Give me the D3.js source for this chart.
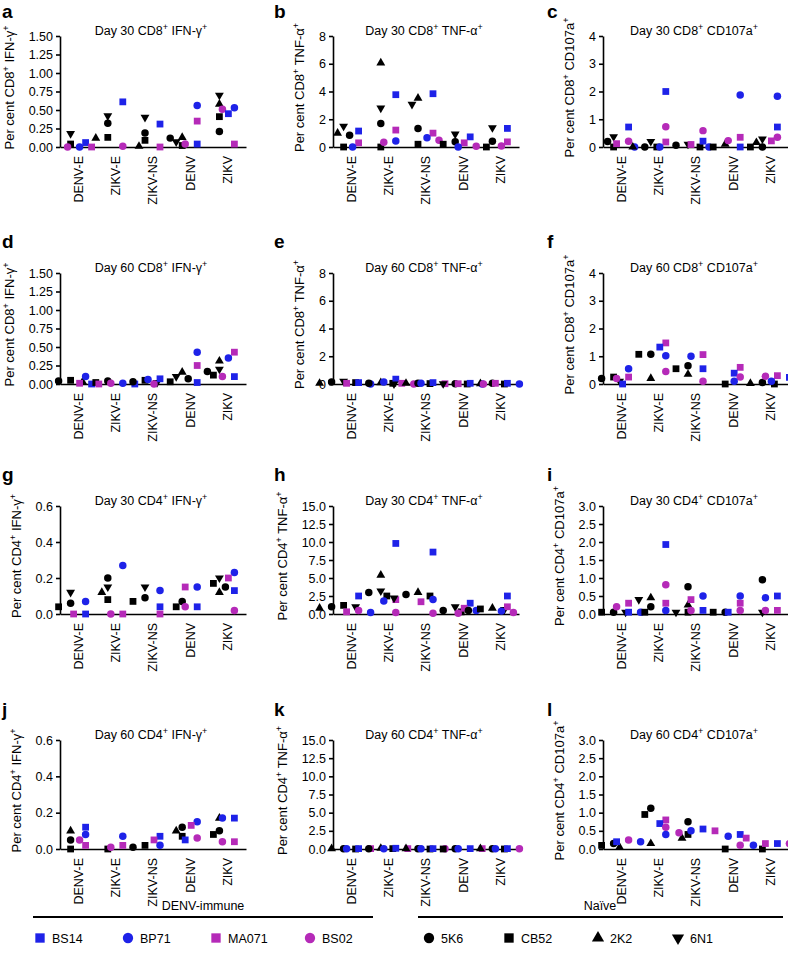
<!DOCTYPE html>
<html>
<head>
<meta charset="utf-8">
<script src="https://cdn.jsdelivr.net/npm/d3@7"></script>
<style>
  body { margin: 0; background: #fff; }
  text { font-family: "Liberation Sans", Arial, Helvetica, sans-serif; fill: #000; }
</style>
</head>
<body>
<script>
// ---- data ----
const categories = ["DENV-E", "ZIKV-E", "ZIKV-NS", "DENV", "ZIKV"];
const naiveDonors = ["5K6", "CB52", "2K2", "6N1"];
const immuneDonors = ["BS14", "BP71", "MA071", "BS02"];
const donors = naiveDonors.concat(immuneDonors);

// rows follow `donors` order, columns follow `categories`
const d30Cd8Ifng = [
  [null, 0.32, 0.19, 0.12, 0.21],
  [0.04, 0.13, 0.09, 0.02, 0.41],
  [null, 0.12, 0.01, 0.13, 0.58],
  [0.18, 0.42, 0.40, 0.07, 0.70],
  [0.06, 0.61, 0.31, 0.04, 0.45],
  [0.00, null, null, 0.56, 0.53],
  [0.00, null, 0.00, 0.35, 0.04],
  [0.00, 0.01, null, 0.04, 0.51]
];
const d30Cd8Tnfa = [
  [0.85, 1.69, 1.34, 0.37, 0.42],
  [0.00, 0.00, 0.20, 0.20, 0.00],
  [1.00, 6.06, 3.52, null, null],
  [1.50, 2.80, 3.08, 0.93, 1.39],
  [1.15, 3.77, 3.84, 0.73, 1.34],
  [0.00, 0.44, 0.66, 0.00, null],
  [0.30, 1.22, 1.00, 0.30, 0.37],
  [null, 0.34, 0.49, 0.05, 0.07]
];
const d30Cd8Cd107a = [
  [0.20, 0.00, 0.06, null, 0.00],
  [0.00, 0.00, 0.00, 0.00, 0.00],
  [null, 0.00, null, 0.10, 0.16],
  [0.37, 0.20, 0.10, null, 0.29],
  [0.72, 2.00, 0.21, 0.00, 0.72],
  [0.00, 0.00, 0.00, 1.87, 1.83],
  [0.12, 0.18, 0.09, 0.35, 0.22],
  [0.21, 0.73, 0.59, 0.23, 0.35]
];
const d60Cd8Ifng = [
  [0.04, 0.04, 0.03, 0.07, 0.17],
  [0.05, 0.02, 0.05, 0.03, 0.12],
  [0.03, null, null, 0.16, 0.31],
  [null, null, 0.02, 0.10, 0.20],
  [0.00, 0.00, 0.07, 0.02, 0.10],
  [0.10, 0.01, 0.06, 0.43, 0.35],
  [0.01, 0.00, null, 0.25, 0.43],
  [null, 0.01, 0.00, null, 0.10]
];
const d60Cd8Tnfa = [
  [0.15, 0.05, 0.05, 0.02, 0.05],
  [0.10, 0.05, 0.03, 0.00, 0.00],
  [0.05, 0.10, 0.05, null, 0.02],
  [0.20, null, 0.00, 0.02, null],
  [0.10, 0.35, 0.10, 0.05, 0.05],
  [0.00, 0.15, 0.05, 0.00, 0.00],
  [0.05, 0.05, 0.02, 0.02, 0.05],
  [null, 0.00, null, null, 0.00]
];
const d60Cd8Cd107a = [
  [0.20, 1.07, 0.66, null, 0.05],
  [0.25, 1.07, 0.55, 0.00, 0.00],
  [null, 0.20, 0.35, null, 0.02],
  [0.10, null, null, null, null],
  [0.00, 1.33, 0.55, 0.39, 0.24],
  [0.55, 1.02, 1.00, 0.10, 0.10],
  [0.25, 1.48, 1.06, 0.60, 0.30],
  [0.20, 0.45, 0.10, 0.25, 0.28]
];
const d30Cd4Ifng = [
  [0.06, 0.20, 0.09, 0.07, 0.15],
  [0.04, 0.08, 0.07, 0.04, 0.17],
  [null, 0.12, null, null, 0.12],
  [0.12, 0.15, 0.15, null, 0.20],
  [0.00, null, 0.04, 0.04, 0.13],
  [0.07, 0.27, 0.13, 0.15, 0.23],
  [0.00, 0.00, 0.00, 0.15, 0.20],
  [null, 0.00, null, 0.04, 0.02]
];
const d30Cd4Tnfa = [
  [1.0, 3.0, 2.7, 0.5, 0.5],
  [1.2, 2.5, 2.5, 0.3, 0.7],
  [0.8, 5.4, 3.0, null, 0.8],
  [1.0, 3.2, 2.2, 1.0, 0.6],
  [2.5, 9.8, 8.6, 1.5, 2.5],
  [0.2, 1.8, 2.0, 0.5, 0.4],
  [0.3, 2.0, 1.7, 0.8, 1.0],
  [0.5, 0.2, 0.1, 0.1, 0.2]
];
const d30Cd4Cd107a = [
  [0.05, 0.20, 0.76, 0.05, 0.95],
  [0.05, 0.05, 0.05, 0.05, null],
  [null, 0.45, 0.25, null, null],
  [0.05, 0.40, 0.05, null, 0.05],
  [0.05, 1.93, 0.10, 0.05, 0.50],
  [0.05, 0.10, 0.50, 0.50, 0.45],
  [0.30, 0.30, 0.40, 0.30, 0.10],
  [0.20, 0.81, 0.10, 0.10, 0.10]
];
const d60Cd4Ifng = [
  [0.05, null, 0.01, 0.12, 0.10],
  [0.00, 0.00, 0.02, 0.07, 0.08],
  [0.10, null, null, 0.10, 0.17],
  [null, null, null, null, null],
  [0.12, null, 0.07, 0.05, 0.17],
  [0.08, 0.07, 0.02, 0.15, 0.17],
  [0.02, 0.02, 0.05, 0.13, 0.04],
  [0.05, 0.01, null, 0.06, 0.04]
];
const d60Cd4Tnfa = [
  [0.05, 0.05, 0.05, 0.05, 0.05],
  [0.00, 0.05, 0.00, 0.00, 0.00],
  [0.05, 0.10, 0.05, null, 0.05],
  [null, null, null, null, null],
  [0.05, 0.10, 0.05, 0.05, 0.05],
  [0.05, 0.05, 0.05, 0.05, 0.05],
  [0.05, 0.05, null, 0.05, null],
  [null, null, 0.05, null, 0.05]
];
const d60Cd4Cd107a = [
  [0.15, 1.12, 0.75, null, null],
  [0.10, 0.95, 0.40, 0.00, 0.00],
  [0.05, 0.15, 0.30, null, null],
  [null, null, null, null, null],
  [0.20, 0.70, 0.55, 0.40, 0.15],
  [0.20, 0.40, 0.50, 0.35, 0.10],
  [null, 0.80, 0.50, 0.30, 0.15],
  [0.25, 0.60, 0.45, 0.10, 0.15]
];

const ticksIfng8 = [0, 0.25, 0.5, 0.75, 1, 1.25, 1.5];
const ticksTnfa8 = [0, 2, 4, 6, 8];
const ticksCd107a8 = [0, 1, 2, 3, 4];
const ticksIfng4 = [0, 0.2, 0.4, 0.6];
const ticksTnfa4 = [0, 2.5, 5, 7.5, 10, 12.5, 15];
const ticksCd107a4 = [0, 0.5, 1, 1.5, 2, 2.5, 3];

const panels = [
  { id: "a", title: "Day 30 CD8^+ IFN-γ^+", ylab: "Per cent CD8^+ IFN-γ^+", values: d30Cd8Ifng, ticks: ticksIfng8, fmt: ".2f" },
  { id: "b", title: "Day 30 CD8^+ TNF-α^+", ylab: "Per cent CD8^+ TNF-α^+", values: d30Cd8Tnfa, ticks: ticksTnfa8, fmt: "d" },
  { id: "c", title: "Day 30 CD8^+ CD107a^+", ylab: "Per cent CD8^+ CD107a^+", values: d30Cd8Cd107a, ticks: ticksCd107a8, fmt: "d" },
  { id: "d", title: "Day 60 CD8^+ IFN-γ^+", ylab: "Per cent CD8^+ IFN-γ^+", values: d60Cd8Ifng, ticks: ticksIfng8, fmt: ".2f" },
  { id: "e", title: "Day 60 CD8^+ TNF-α^+", ylab: "Per cent CD8^+ TNF-α^+", values: d60Cd8Tnfa, ticks: ticksTnfa8, fmt: "d" },
  { id: "f", title: "Day 60 CD8^+ CD107a^+", ylab: "Per cent CD8^+ CD107a^+", values: d60Cd8Cd107a, ticks: ticksCd107a8, fmt: "d" },
  { id: "g", title: "Day 30 CD4^+ IFN-γ^+", ylab: "Per cent CD4^+ IFN-γ^+", values: d30Cd4Ifng, ticks: ticksIfng4, fmt: ".1f" },
  { id: "h", title: "Day 30 CD4^+ TNF-α^+", ylab: "Per cent CD4^+ TNF-α^+", values: d30Cd4Tnfa, ticks: ticksTnfa4, fmt: ".1f" },
  { id: "i", title: "Day 30 CD4^+ CD107a^+", ylab: "Per cent CD4^+ CD107a^+", values: d30Cd4Cd107a, ticks: ticksCd107a4, fmt: ".1f" },
  { id: "j", title: "Day 60 CD4^+ IFN-γ^+", ylab: "Per cent CD4^+ IFN-γ^+", values: d60Cd4Ifng, ticks: ticksIfng4, fmt: ".1f" },
  { id: "k", title: "Day 60 CD4^+ TNF-α^+", ylab: "Per cent CD4^+ TNF-α^+", values: d60Cd4Tnfa, ticks: ticksTnfa4, fmt: ".1f" },
  { id: "l", title: "Day 60 CD4^+ CD107a^+", ylab: "Per cent CD4^+ CD107a^+", values: d60Cd4Cd107a, ticks: ticksCd107a4, fmt: ".1f" }
];

// ---- styles / layout ----
const BLUE = "#1e22e8", MAGENTA = "#b52ab8";
const donorStyle = {
  "5K6":   { sym: d3.symbolCircle,   fill: "#000", size: 44, rot: 0 },
  "CB52":  { sym: d3.symbolSquare,   fill: "#000", size: 46, rot: 0 },
  "2K2":   { sym: d3.symbolTriangle, fill: "#000", size: 34, rot: 0 },
  "6N1":   { sym: d3.symbolTriangle, fill: "#000", size: 34, rot: 180 },
  "BS14":  { sym: d3.symbolSquare,   fill: BLUE,    size: 46, rot: 0 },
  "BP71":  { sym: d3.symbolCircle,   fill: BLUE,    size: 44, rot: 0 },
  "MA071": { sym: d3.symbolSquare,   fill: MAGENTA, size: 46, rot: 0 },
  "BS02":  { sym: d3.symbolCircle,   fill: MAGENTA, size: 44, rot: 0 }
};

const W = 788, H = 965;
const colX = [60, 333, 603];
const plotW = 186;
const rowY = [[36, 147], [273, 384], [506, 614], [740, 849]];
const letterPos = { x: [2, 274, 547], y: [18, 248, 481, 716] };

const svg = d3.select("body").append("svg").attr("width", W).attr("height", H);
svg.append("rect").attr("width", W).attr("height", H).attr("fill", "#fff");

// text with "^+" superscripts
function richText(sel, str, supSize) {
  const parts = str.split("^+");
  parts.forEach((p, i) => {
    sel.append("tspan").text(p).attr("dy", i === 0 ? 0 : 5);
    if (i < parts.length - 1) {
      sel.append("tspan").text("+").attr("font-size", supSize).attr("dy", -5);
    }
  });
}

// spread overlapping points sideways, like GraphPad scatter
function dodge(items, cx, step, minD) {
  const placed = [];
  items.sort((a, b) => a.py - b.py);
  items.forEach(it => {
    for (let k = 0; k < 30; k++) {
      const off = k === 0 ? 0 : (k % 2 ? -1 : 1) * Math.ceil(k / 2) * step;
      const px = cx + off;
      if (placed.every(q => Math.hypot(q.px - px, q.py - it.py) >= minD)) {
        it.px = px;
        placed.push(it);
        break;
      }
    }
  });
  return placed;
}

panels.forEach((p, i) => {
  const col = i % 3, row = Math.floor(i / 3);
  const x0 = colX[col], top = rowY[row][0], bottom = rowY[row][1];
  const g = svg.append("g");

  const x = d3.scaleBand().domain(categories).range([x0, x0 + plotW]);
  const y = d3.scaleLinear().domain([0, d3.max(p.ticks)]).range([bottom, top]);

  // y axis
  const ya = g.append("g").attr("transform", `translate(${x0},0)`)
    .call(d3.axisLeft(y).tickValues(p.ticks).tickFormat(d3.format(p.fmt)).tickSize(4).tickSizeOuter(0).tickPadding(3));
  ya.selectAll("text").attr("font-size", 12.5).attr("font-family", null);
  ya.selectAll("path, line").attr("stroke", "#000").attr("stroke-width", 1.6);

  // x axis
  const xa = g.append("g").attr("transform", `translate(0,${bottom})`)
    .call(d3.axisBottom(x).tickSize(0).tickSizeOuter(0).tickPadding(0));
  xa.select(".domain").attr("stroke", "#000").attr("stroke-width", 1.6);
  xa.selectAll(".tick text")
    .attr("font-size", 12.5).attr("font-family", null)
    .attr("transform", "rotate(-90)").attr("text-anchor", "end")
    .attr("x", -9).attr("y", 0).attr("dy", "0.35em");

  // y title
  let labLeft = x0;
  ya.selectAll(".tick text").each(function () {
    const b = this.getBBox();
    labLeft = Math.min(labLeft, x0 - 7 - b.width);
  });
  const yt = g.append("text")
    .attr("transform", `translate(${labLeft - 15},${(top + bottom) / 2 - 4}) rotate(-90)`)
    .attr("text-anchor", "middle").attr("font-size", 13);
  richText(yt, p.ylab, 9);

  // title
  const tt = g.append("text").attr("x", x0 + plotW / 2 - 2).attr("y", top - 1)
    .attr("text-anchor", "middle").attr("font-size", 12.5);
  richText(tt, p.title, 9);

  // panel letter
  g.append("text").attr("x", letterPos.x[col]).attr("y", letterPos.y[row])
    .attr("font-size", 19).attr("font-weight", "bold").text(p.id);

  // points
  const pts = [];
  categories.forEach((c, ci) => {
    [[naiveDonors, -8], [immuneDonors, 7]].forEach(([grp, off]) => {
      const items = grp.map(dn => ({ donor: dn, v: p.values[donors.indexOf(dn)][ci] }))
        .filter(d => d.v !== null)
        .map(d => Object.assign(d, { py: y(d.v) }));
      dodge(items, x(c) + x.bandwidth() / 2 + off, 6, 7).forEach(d => pts.push(d));
    });
  });
  g.append("g").selectAll("path").data(pts).join("path")
    .attr("d", d => d3.symbol(donorStyle[d.donor].sym, donorStyle[d.donor].size)())
    .attr("transform", d => `translate(${d.px},${d.py}) rotate(${donorStyle[d.donor].rot})`)
    .attr("fill", d => donorStyle[d.donor].fill);
});

// ---- legend ----
const legend = svg.append("g");
const legendGroups = [
  { name: "DENV-immune", list: immuneDonors, cx: 203, line: [33, 373], xs: [40, 128, 216, 310] },
  { name: "Naïve", list: naiveDonors, cx: 600, line: [418, 783], xs: [429, 509, 598, 678] }
];
legendGroups.forEach(lg => {
  legend.append("text").attr("x", lg.cx).attr("y", 910).attr("text-anchor", "middle")
    .attr("font-size", 12.5).text(lg.name);
  legend.append("line").attr("x1", lg.line[0]).attr("x2", lg.line[1])
    .attr("y1", 917).attr("y2", 917).attr("stroke", "#000").attr("stroke-width", 2);
  lg.list.forEach((dn, k) => {
    const st = donorStyle[dn];
    legend.append("path")
      .attr("d", d3.symbol(st.sym, st.size * 1.9)())
      .attr("transform", `translate(${lg.xs[k]},938) rotate(${st.rot})`)
      .attr("fill", st.fill);
    legend.append("text").attr("x", lg.xs[k] + 12).attr("y", 942.5)
      .attr("font-size", 12.5).text(dn);
  });
});
</script>
</body>
</html>
